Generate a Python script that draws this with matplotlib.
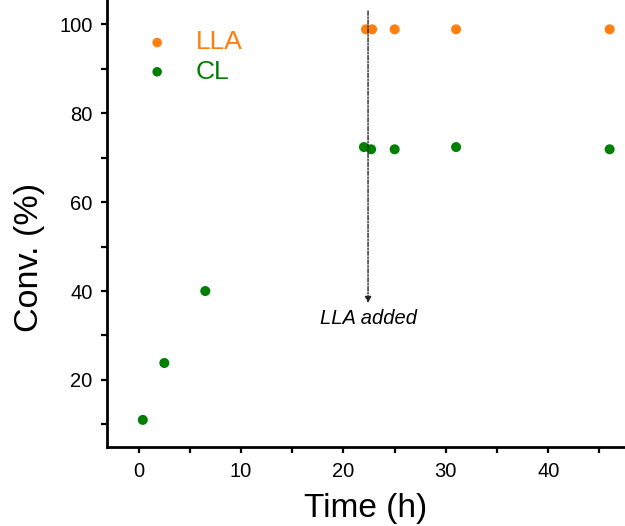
import matplotlib
matplotlib.use("Agg")
import matplotlib.pyplot as plt
from matplotlib.ticker import MultipleLocator

plt.rcParams["font.family"] = ["Liberation Sans", "DejaVu Sans"]

# CL conversion vs time
cl_time = [0.4, 2.5, 6.5, 22.0, 22.7, 25.0, 31.0, 46.0]
cl_conv = [11.0, 23.8, 40.0, 72.4, 71.9, 71.9, 72.4, 71.9]
# LLA conversion vs time
lla_time = [22.2, 22.8, 25.0, 31.0, 46.0]
lla_conv = [98.9, 98.9, 98.9, 98.9, 98.9]

lla_added_t = 22.4

ORANGE = "#ff7f0e"
GREEN = "#008000"

fig = plt.figure(figsize=(6.25, 5.26), dpi=100)
ax = fig.add_axes([0.1712, 0.1502, 0.8288, 0.8498])

ax.scatter(lla_time, lla_conv, s=52, color=ORANGE, edgecolors="none",
           label="LLA", zorder=3)
ax.scatter(cl_time, cl_conv, s=52, color=GREEN, edgecolors="none",
           label="CL", zorder=3)

# LLA addition marker
ax.annotate("", xy=(lla_added_t, 37.3), xytext=(lla_added_t, 103),
            arrowprops=dict(arrowstyle="-|>", color="#222222", lw=1.0,
                            linestyle=(0, (3, 1.2, 1, 1.2)),
                            mutation_scale=9, shrinkA=0, shrinkB=0))
ax.text(lla_added_t, 33.9, "LLA added", style="italic", fontsize=14.5,
        ha="center", va="center")

ax.set_xlim(-3.1, 47.5)
ax.set_ylim(4.9, 105.5)
ax.xaxis.set_major_locator(MultipleLocator(10))
ax.xaxis.set_minor_locator(MultipleLocator(5))
ax.yaxis.set_major_locator(MultipleLocator(20))
ax.yaxis.set_minor_locator(MultipleLocator(10))
ax.set_yticks([20, 40, 60, 80, 100])

for s in ("top", "right"):
    ax.spines[s].set_visible(False)
for s in ("left", "bottom"):
    ax.spines[s].set_linewidth(2.0)
ax.tick_params(which="major", direction="out", length=4.5, width=1.6,
               labelsize=14.5, pad=6)
ax.tick_params(which="minor", direction="out", length=4.5, width=1.6)

ax.set_xlabel("Time (h)", fontsize=24, labelpad=9)
ax.set_ylabel("Conv. (%)", fontsize=24.5)
ax.yaxis.set_label_coords(-0.12, 0.425)

leg = ax.legend(loc="upper left", bbox_to_anchor=(0.0, 0.985),
                frameon=False, fontsize=19, handletextpad=0.45,
                labelspacing=0.2, markerscale=0.95)
for txt, col in zip(leg.get_texts(), (ORANGE, GREEN)):
    txt.set_color(col)

fig.savefig("out.png", dpi=100)
